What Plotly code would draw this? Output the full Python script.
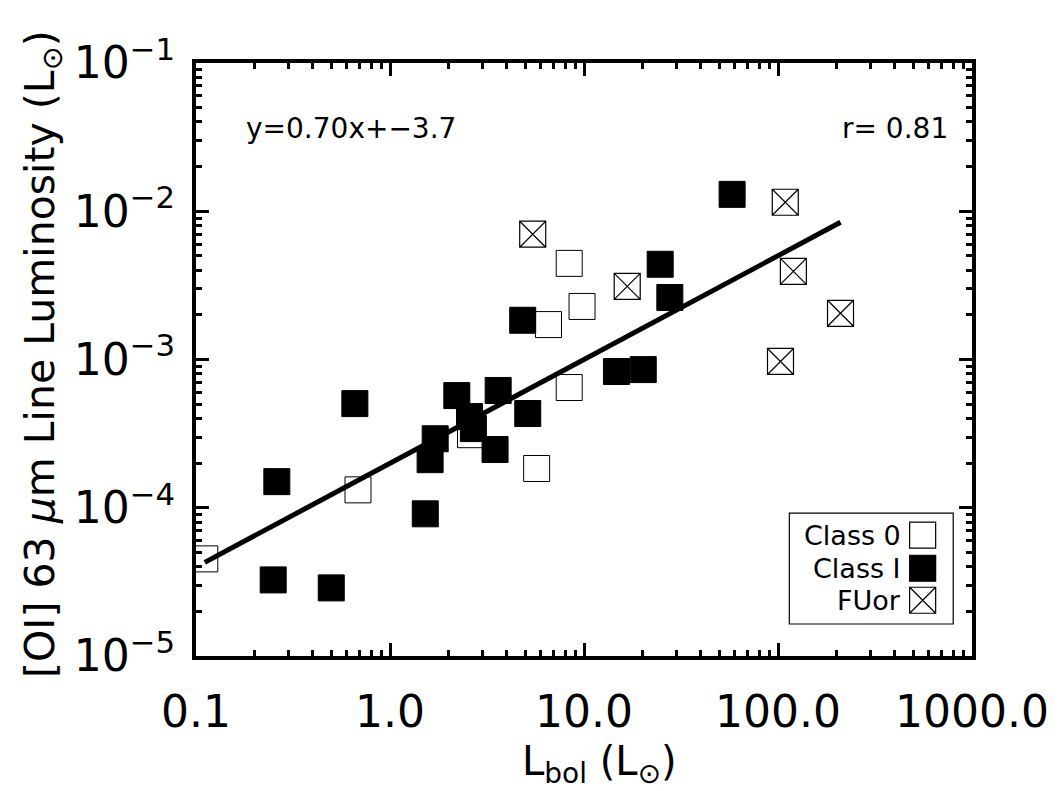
import plotly.graph_objects as go
import numpy as np

# ---- data ----
class0_lbol = [0.111, 0.684, 2.60, 5.70, 8.39, 6.56, 9.77, 8.39]
class0_loi = [4.52e-5, 1.32e-4, 3.11e-4, 1.84e-4, 6.47e-4, 1.72e-3, 2.28e-3, 4.45e-3]

class1_lbol = [0.250, 0.498, 0.261, 0.659, 1.52, 1.71, 1.61, 2.21, 2.57, 2.69,
               3.61, 3.48, 5.13, 4.83, 14.7, 20.2, 24.7, 27.7, 58.0]
class1_loi = [3.26e-5, 2.88e-5, 1.50e-4, 5.04e-4, 9.1e-5, 2.92e-4, 2.11e-4, 5.71e-4, 4.12e-4, 3.42e-4,
              6.18e-4, 2.47e-4, 4.32e-4, 1.84e-3, 8.30e-4, 8.55e-4, 4.39e-3, 2.62e-3, 1.30e-2]

fuor_lbol = [5.44, 16.7, 109, 120, 210, 103]
fuor_loi = [7.0e-3, 3.11e-3, 1.15e-2, 3.93e-3, 2.05e-3, 9.7e-4]

fit_slope = 0.70
fit_intercept = -3.7
corr_r = 0.81

x_tickvals = [0.1, 1.0, 10.0, 100.0, 1000.0]
x_ticktext = ["0.1", "1.0", "10.0", "100.0", "1000.0"]
y_tickvals = [1e-5, 1e-4, 1e-3, 1e-2, 1e-1]
y_ticktext = ["10<sup>\u22125</sup>", "10<sup>\u22124</sup>", "10<sup>\u22123</sup>",
              "10<sup>\u22122</sup>", "10<sup>\u22121</sup>"]
legend_labels = ["Class 0", "Class I", "FUor"]

FONT = "DejaVu Sans"
MS = 26

fig = go.Figure()

fig.add_trace(go.Scatter(x=class0_lbol, y=class0_loi, mode="markers",
                         marker=dict(symbol="square", size=MS, color="white",
                                     line=dict(color="black", width=1)),
                         showlegend=False))
fig.add_trace(go.Scatter(x=class1_lbol, y=class1_loi, mode="markers",
                         marker=dict(symbol="square", size=MS, color="black",
                                     line=dict(color="black", width=1)),
                         showlegend=False))
fig.add_trace(go.Scatter(x=fuor_lbol, y=fuor_loi, mode="markers",
                         marker=dict(symbol="square-x", size=MS, color="white",
                                     line=dict(color="black", width=1.2)),
                         showlegend=False))

all_x = class0_lbol + class1_lbol + fuor_lbol
fit_x = np.array([min(all_x), max(all_x)])
fit_y = 10 ** (fit_slope * np.log10(fit_x) + fit_intercept)
fig.add_trace(go.Scatter(x=fit_x, y=fit_y, mode="lines",
                         line=dict(color="black", width=5), showlegend=False))

# custom legend (markers on right of text), on an overlay axis
leg_y = [0.204, 0.148, 0.094]
leg_symbols = ["square", "square", "square-x"]
leg_colors = ["white", "black", "white"]
for yy, sym, col in zip(leg_y, leg_symbols, leg_colors):
    fig.add_trace(go.Scatter(x=[0.9364], y=[yy], mode="markers", xaxis="x2", yaxis="y2",
                             marker=dict(symbol=sym, size=MS, color=col,
                                         line=dict(color="black", width=1.2)),
                             showlegend=False, hoverinfo="skip"))

minor_x = [k * 10.0 ** e for e in range(-1, 3) for k in range(2, 10)]
minor_y = [k * 10.0 ** e for e in range(-5, -1) for k in range(2, 10)]

axis_common = dict(showline=True, linecolor="black", linewidth=4, mirror="ticks",
                   ticks="inside", tickcolor="black", tickwidth=3, showgrid=False,
                   zeroline=False, tickfont=dict(family=FONT, size=44, color="black"))

fig.update_xaxes(type="log", range=[-1, 3], tickmode="array", tickvals=x_tickvals,
                 ticktext=x_ticktext, ticklen=13, ticklabelstandoff=14,
                 minor=dict(tickmode="array", tickvals=minor_x, ticks="inside",
                            ticklen=6, tickwidth=3, tickcolor="black", showgrid=False),
                 **axis_common)
fig.update_yaxes(type="log", range=[-5, -1], tickmode="array", tickvals=y_tickvals,
                 ticktext=y_ticktext, ticklen=13, ticklabelstandoff=8,
                 minor=dict(tickmode="array", tickvals=minor_y, ticks="inside",
                            ticklen=6, tickwidth=3, tickcolor="black", showgrid=False),
                 **axis_common)

fig.update_layout(
    xaxis2=dict(overlaying="x", range=[0, 1], visible=False, fixedrange=True),
    yaxis2=dict(overlaying="y", range=[0, 1], visible=False, fixedrange=True),
)

annotations = [
    dict(text="[OI] 63 <i>\u03bc</i>m Line Luminosity (L<sub>\u2299</sub>)",
         xref="paper", yref="paper", x=-0.198, y=0.51, textangle=-90,
         xanchor="center", yanchor="middle", showarrow=False,
         font=dict(family=FONT, size=41, color="black")),
    dict(text="L<sub>bol</sub> (L<sub>\u2299</sub>)",
         xref="paper", yref="paper", x=0.52, y=-0.182,
         xanchor="center", yanchor="middle", showarrow=False,
         font=dict(family=FONT, size=40, color="black")),
    dict(text=f"y={fit_slope:.2f}x+\u2212{abs(fit_intercept):.1f}",
         xref="paper", yref="paper", x=0.062, y=0.89,
         xanchor="left", yanchor="middle", showarrow=False,
         font=dict(family=FONT, size=28, color="black")),
    dict(text=f"r= {corr_r:.2f}",
         xref="paper", yref="paper", x=0.972, y=0.89,
         xanchor="right", yanchor="middle", showarrow=False,
         font=dict(family=FONT, size=28, color="black")),
]
for yy, lab in zip(leg_y, legend_labels):
    annotations.append(dict(text=lab, xref="paper", yref="paper", x=0.911, y=yy,
                            xanchor="right", yanchor="middle", showarrow=False,
                            font=dict(family=FONT, size=27, color="black")))

fig.update_layout(
    width=1061, height=791,
    margin=dict(l=196, r=79, t=63, b=135),
    paper_bgcolor="white", plot_bgcolor="white",
    annotations=annotations,
    shapes=[dict(type="rect", xref="paper", yref="paper", x0=0.7646, x1=0.9758,
                 y0=0.054, y1=0.241, line=dict(color="black", width=1.2))],
)

fig.write_html("out.html")
